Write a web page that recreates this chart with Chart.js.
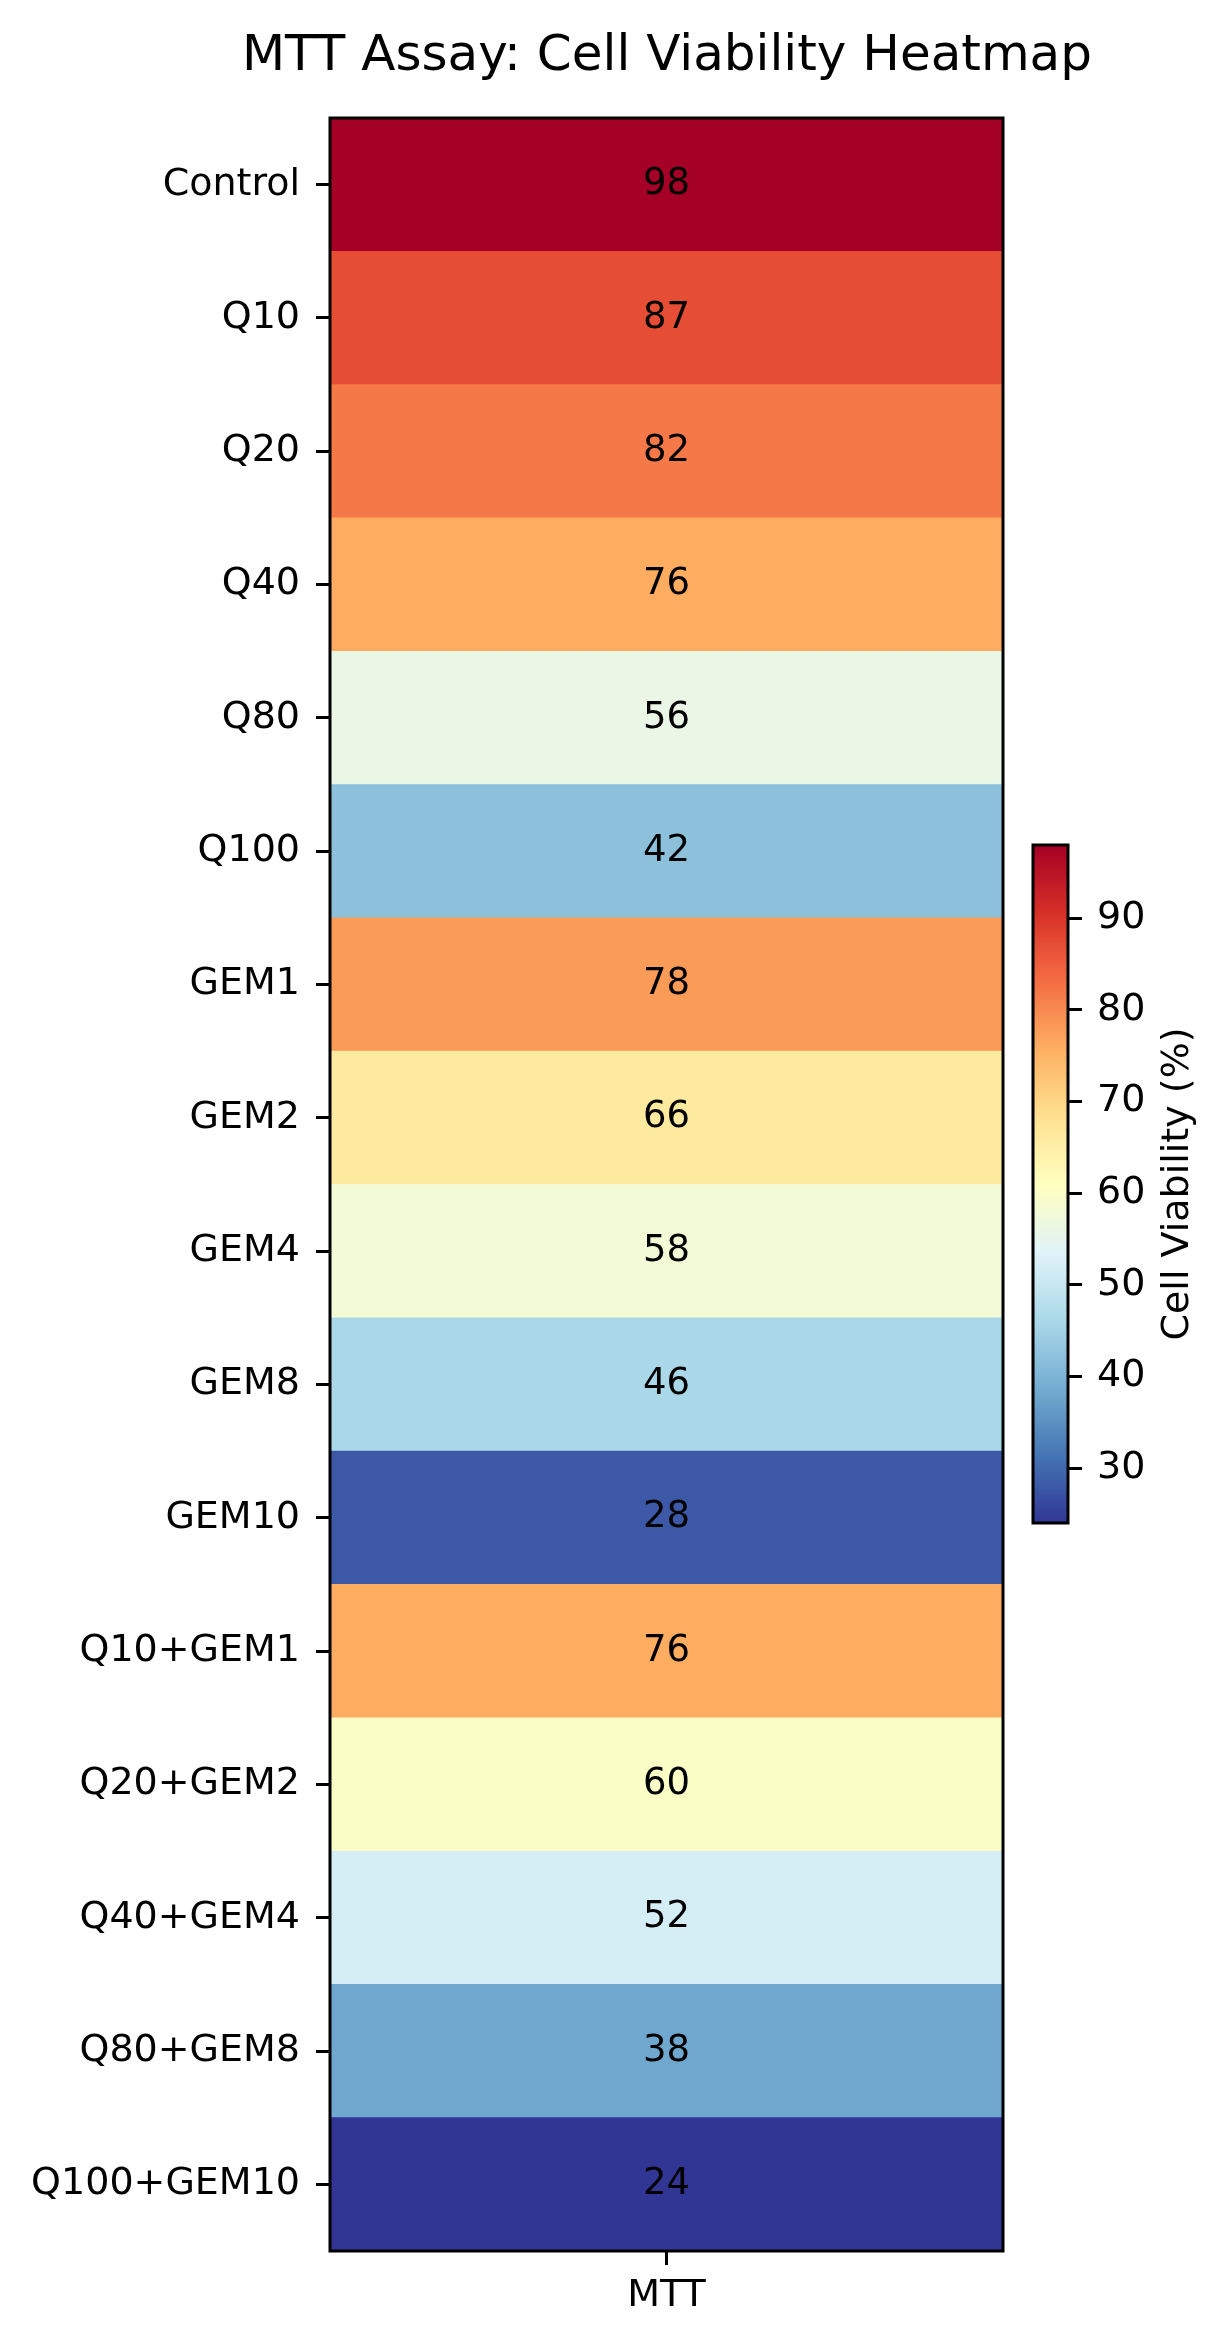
<!DOCTYPE html>
<html>
<head>
<meta charset="utf-8">
<title>MTT Assay: Cell Viability Heatmap</title>
<script src="https://cdn.jsdelivr.net/npm/chart.js@4.4.1/dist/chart.umd.min.js"></script>
<style>
    body { margin: 0; background: #fff; }
    #wrap { position: relative; width: 1219px; height: 2346px; }
    #heatmap { position: absolute; left: 0; top: 0; }
    #colorbar { position: absolute; left: 1000px; top: 800px; }
</style>
</head>
<body>
<div id="wrap">
    <canvas id="heatmap" width="1219" height="2346"></canvas>
    <canvas id="colorbar" width="219" height="780"></canvas>
</div>
<script>
// treatments, top to bottom
var treatments = ['Control', 'Q10', 'Q20', 'Q40', 'Q80', 'Q100',
    'GEM1', 'GEM2', 'GEM4', 'GEM8', 'GEM10',
    'Q10+GEM1', 'Q20+GEM2', 'Q40+GEM4', 'Q80+GEM8', 'Q100+GEM10'];
// cell viability (%)
var viability = [98, 87, 82, 76, 56, 42, 78, 66, 58, 46, 28, 76, 60, 52, 38, 24];
var assays = ['MTT'];
var cbarTicks = [30, 40, 50, 60, 70, 80, 90];

var FONT = 'DejaVu Sans';

// RdYlBu_r stops (low -> high)
var rdylbu_r = [
    [49, 54, 149], [69, 117, 180], [116, 173, 209], [171, 217, 233],
    [224, 243, 248], [255, 255, 191], [254, 224, 144], [253, 174, 97],
    [244, 109, 67], [215, 48, 39], [165, 0, 38]
];

function cmap(t) {
    t = Math.max(0, Math.min(1, t));
    var pos = t * (rdylbu_r.length - 1);
    var i = Math.min(Math.floor(pos), rdylbu_r.length - 2);
    var f = pos - i;
    var a = rdylbu_r[i], b = rdylbu_r[i + 1];
    var c = [0, 1, 2].map(function (k) { return Math.round(a[k] + (b[k] - a[k]) * f); });
    return 'rgb(' + c.join(',') + ')';
}

var vmin = Math.min.apply(null, viability);
var vmax = Math.max.apply(null, viability);

function colorFor(v) {
    return cmap((v - vmin) / (vmax - vmin));
}

var framePlugin = {
    id: 'frame',
    afterDraw: function (chart) {
        var a = chart.chartArea;
        var ctx = chart.ctx;
        ctx.save();
        ctx.strokeStyle = '#000';
        ctx.lineWidth = 3;
        ctx.strokeRect(a.left, a.top, a.right - a.left, a.bottom - a.top);
        ctx.restore();
    }
};

var cellLabels = {
    id: 'cellLabels',
    afterDatasetsDraw: function (chart) {
        var ctx = chart.ctx;
        var meta = chart.getDatasetMeta(0);
        ctx.save();
        ctx.font = '37px "' + FONT + '"';
        ctx.fillStyle = '#000';
        ctx.textAlign = 'center';
        ctx.textBaseline = 'middle';
        meta.data.forEach(function (bar, i) {
            var p = bar.getCenterPoint();
            ctx.fillText(String(viability[i]), p.x, p.y);
        });
        ctx.restore();
    }
};

var tickGrid = {
    offset: false,
    drawOnChartArea: false,
    tickLength: 14,
    tickWidth: 3,
    tickColor: '#000'
};

new Chart(document.getElementById('heatmap'), {
    type: 'bar',
    data: {
        labels: treatments,
        datasets: [{
            data: treatments.map(function () { return [0, 1]; }),
            backgroundColor: viability.map(colorFor),
            borderWidth: 0,
            barPercentage: 1,
            categoryPercentage: 1,
            xAxisID: 'x',
            yAxisID: 'y'
        }]
    },
    options: {
        indexAxis: 'y',
        responsive: false,
        animation: false,
        devicePixelRatio: 1,
        // right pad + align end puts the title over the heatmap centre
        layout: { padding: { left: 0, right: 127, top: 0, bottom: 0 } },
        plugins: {
            legend: { display: false },
            tooltip: { enabled: false },
            title: {
                display: true,
                align: 'end',
                text: 'MTT Assay: Cell Viability Heatmap',
                color: '#000',
                font: { family: FONT, size: 50, weight: 'normal' },
                padding: { top: 27, bottom: 31 }
            }
        },
        scales: {
            x: { type: 'linear', min: 0, max: 1, display: false },
            y: {
                type: 'category',
                offset: true,
                grid: tickGrid,
                border: { display: false },
                ticks: {
                    color: '#000',
                    autoSkip: false,
                    padding: 16,
                    font: { family: FONT, size: 38 }
                },
                afterFit: function (s) { s.width = 330; }
            },
            spacer: {
                type: 'linear',
                position: 'right',
                grid: { display: false },
                border: { display: false },
                ticks: { display: false },
                afterFit: function (s) { s.width = 89; }
            },
            mtt: {
                type: 'category',
                labels: assays,
                position: 'bottom',
                offset: true,
                grid: tickGrid,
                border: { display: false },
                ticks: {
                    color: '#000',
                    padding: 8,
                    font: { family: FONT, size: 38 }
                },
                afterFit: function (s) { s.height = 95; }
            }
        }
    },
    plugins: [cellLabels, framePlugin]
});

var cbarLabel = {
    id: 'cbarLabel',
    afterDraw: function (chart) {
        var a = chart.chartArea;
        var ctx = chart.ctx;
        ctx.save();
        ctx.translate(178, (a.top + a.bottom) / 2);
        ctx.rotate(-Math.PI / 2);
        ctx.font = '38px "' + FONT + '"';
        ctx.fillStyle = '#000';
        ctx.textAlign = 'center';
        ctx.textBaseline = 'middle';
        ctx.fillText('Cell Viability (%)', 0, 0);
        ctx.restore();
    }
};

new Chart(document.getElementById('colorbar'), {
    type: 'bar',
    data: {
        labels: ['cbar'],
        datasets: [{
            data: [[vmin, vmax]],
            backgroundColor: function (c) {
                var chart = c.chart;
                var ys = chart.scales.y;
                if (!chart.chartArea || !ys) return 'rgba(0,0,0,0)';
                var g = chart.ctx.createLinearGradient(0, ys.getPixelForValue(vmin), 0, ys.getPixelForValue(vmax));
                for (var i = 0; i <= 40; i++) {
                    g.addColorStop(i / 40, cmap(i / 40));
                }
                return g;
            },
            borderWidth: 0,
            barPercentage: 1,
            categoryPercentage: 1
        }]
    },
    options: {
        responsive: false,
        animation: false,
        devicePixelRatio: 1,
        layout: { padding: { left: 33, right: 0, top: 45, bottom: 57 } },
        plugins: { legend: { display: false }, tooltip: { enabled: false } },
        scales: {
            x: { type: 'category', display: false },
            y: {
                type: 'linear',
                position: 'right',
                min: vmin,
                max: vmax,
                grid: { drawOnChartArea: false, tickLength: 14, tickWidth: 3, tickColor: '#000' },
                border: { display: false },
                afterBuildTicks: function (s) {
                    s.ticks = cbarTicks.map(function (v) { return { value: v }; });
                },
                ticks: {
                    color: '#000',
                    padding: 15,
                    font: { family: FONT, size: 38 }
                },
                afterFit: function (s) { s.width = 151; }
            }
        }
    },
    plugins: [framePlugin, cbarLabel]
});
</script>
</body>
</html>
